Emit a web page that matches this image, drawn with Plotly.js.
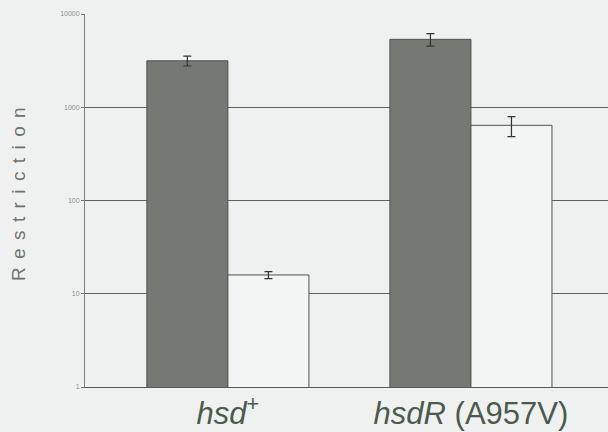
<!DOCTYPE html>
<html>
<head>
<meta charset="utf-8">
<script src="https://cdn.plot.ly/plotly-3.0.1.min.js"></script>
<style>
html,body{margin:0;padding:0;background:#eff1f1;}
#chart{width:608px;height:432px;}
</style>
</head>
<body>
<div id="chart"></div>
<script>
// Data
var categories = ['hsd+', 'hsdR (A957V)'];
var tickLabels = ['<i>hsd</i><sup>+</sup>', '<i>hsdR</i> (A957V)'];
var series1Values = [3150, 5350];   // grey bars
var series1Errors = [380, 820];
var series2Values = [15.9, 640];    // white bars
var series2Errors = [1.4, 155];
var yTickVals = [1, 10, 100, 1000, 10000];
var yTickText = ['1', '10', '100', '1000', '10000'];

var traces = [
  {
    type: 'bar', x: categories, y: series1Values,
    marker: {color: '#747974', line: {color: '#4f534f', width: 1}},
    error_y: {type: 'data', array: series1Errors, visible: true, color: '#333', thickness: 1.2, width: 4},
    showlegend: false, hoverinfo: 'skip'
  },
  {
    type: 'bar', x: categories, y: series2Values,
    marker: {color: '#f3f4f4', line: {color: '#4f534f', width: 1}},
    error_y: {type: 'data', array: series2Errors, visible: true, color: '#333', thickness: 1.2, width: 4},
    showlegend: false, hoverinfo: 'skip'
  }
];

var layout = {
  width: 608, height: 432,
  margin: {l: 85, r: 0, t: 14, b: 45, pad: 0},
  paper_bgcolor: '#eff1f1',
  plot_bgcolor: '#eff1f1',
  barmode: 'group',
  bargap: 0.333,
  bargroupgap: 0,
  xaxis: {
    type: 'category',
    range: [-0.588, 1.564],
    tickmode: 'array',
    tickvals: categories,
    ticktext: tickLabels,
    ticks: '',
    ticklabelstandoff: -1,
    showgrid: false,
    zeroline: false,
    showline: true,
    linecolor: '#555a57',
    linewidth: 1.2,
    tickfont: {family: 'Liberation Sans, Arial, sans-serif', size: 31, color: '#4c5a4e'}
  },
  yaxis: {
    type: 'log',
    range: [0, 4],
    tickmode: 'array',
    tickvals: yTickVals,
    ticktext: yTickText,
    ticks: 'outside',
    ticklen: 3,
    tickcolor: '#777',
    tickfont: {family: 'Liberation Sans, Arial, sans-serif', size: 7, color: '#8a8f8c'},
    showgrid: true,
    gridcolor: '#5c615e',
    gridwidth: 1.4,
    zeroline: false,
    showline: true,
    linecolor: '#7c817e',
    linewidth: 1,
    title: {text: 'Restriction', font: {family: 'Liberation Sans, Arial, sans-serif', size: 19, color: '#6c726e'}, standoff: 29}
  }
};

Plotly.newPlot('chart', traces, layout, {displayModeBar: false, staticPlot: true}).then(function(){
  var t = document.querySelector('.ytitle');
  if (t) {
    t.style.letterSpacing = '8.4px';
    var tr = t.getAttribute('transform') || '';
    t.setAttribute('transform', tr + ' translate(10.5,0)');
  }
});
</script>
</body>
</html>
